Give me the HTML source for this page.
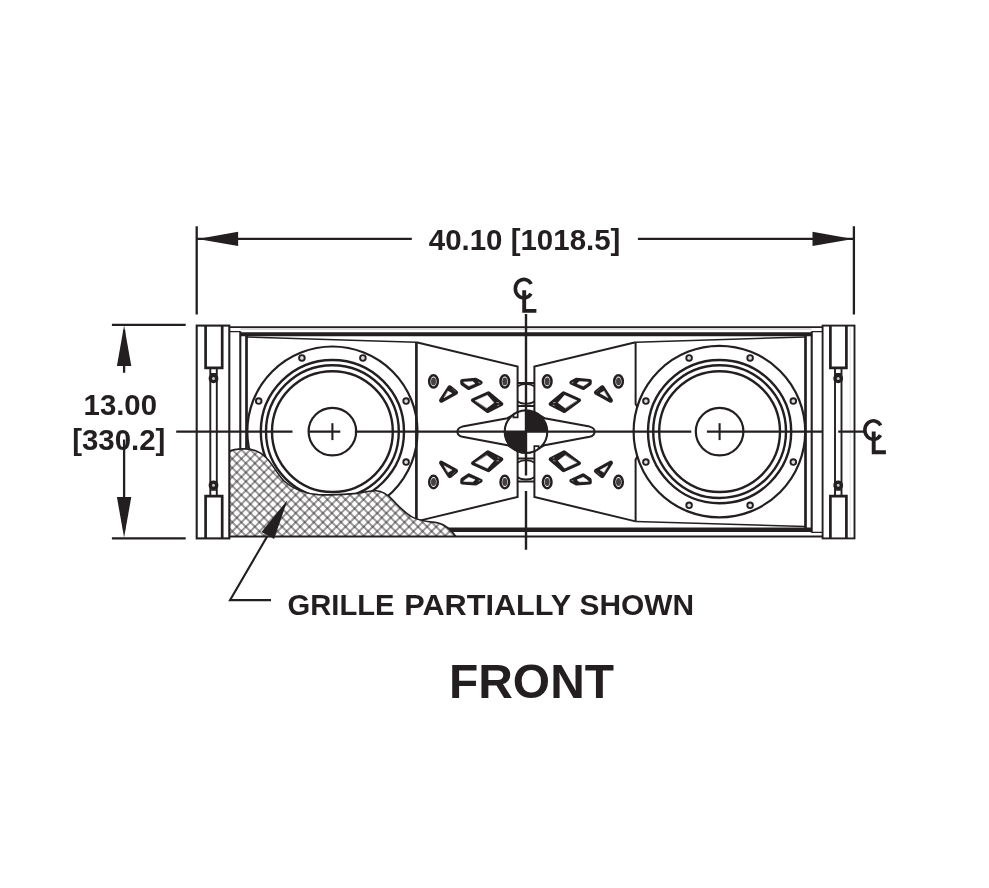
<!DOCTYPE html>
<html>
<head>
<meta charset="utf-8">
<title>Front view</title>
<style>
html,body{margin:0;padding:0;background:#fff;}
body{width:989px;height:888px;overflow:hidden;font-family:"Liberation Sans",sans-serif;}
svg{display:block;}
text{font-family:"Liberation Sans",sans-serif;font-weight:bold;fill:#231f20;}
</style>
</head>
<body>
<svg width="989" height="888" viewBox="0 0 989 888">
<defs>
  <filter id="noop" x="0" y="0" width="989" height="888" filterUnits="userSpaceOnUse" color-interpolation-filters="sRGB"><feOffset dx="0" dy="0"/></filter>
  
  <clipPath id="stripclip"><rect x="517.6" y="370" width="16.8" height="124"/></clipPath>
  <!-- port cluster for upper-left horn quadrant -->
  <g id="ports" stroke-linejoin="round" stroke-linecap="round">
    <ellipse cx="433.5" cy="381.4" rx="4.3" ry="6.2" fill="#fff" stroke="#231f20" stroke-width="2.5"/>
    <ellipse cx="433.5" cy="381.4" rx="2.5" ry="3.9" fill="#454143" stroke="none"/>
    <ellipse cx="504.8" cy="381.4" rx="4.3" ry="6.2" fill="#fff" stroke="#231f20" stroke-width="2.5"/>
    <ellipse cx="504.8" cy="381.4" rx="2.5" ry="3.9" fill="#454143" stroke="none"/>
    <!-- triangle -->
    <path d="M449.7 387.5L455.8 392.5L441.3 400.5Z" fill="#231f20" stroke="#231f20" stroke-width="4.5"/>
    <path d="M448.1 391.2L451.9 393.3L444.4 397.5Z" fill="#fff" stroke="#fff" stroke-width="0.5"/>
    <path d="M452.4 388.8L455.4 391.6" fill="none" stroke="#777475" stroke-width="0.6"/>
    <!-- teardrop -->
    <path d="M462.2 381L475.6 379.9L480.6 382.6L468.8 388L462.4 383.6Z" fill="#231f20" stroke="#231f20" stroke-width="4.1"/>
    <path d="M463.8 382L472.8 381.6L475 383.6L468.8 386.1L464.8 383.5Z" fill="#fff" stroke="#fff" stroke-width="0.5"/>
    <path d="M478.8 382.4L480 382.9" fill="none" stroke="#a5a3a4" stroke-width="0.9"/>
    <!-- diamond -->
    <path d="M472.9 400.2L488.5 393.2L501.4 404.1L487.8 411.1Z" fill="#231f20" stroke="#231f20" stroke-width="3.9"/>
    <path d="M475.4 400.6L487.4 395.2L493.9 402.7L486.8 408Z" fill="#fff" stroke="#fff" stroke-width="0.5"/>
    <path d="M496.8 402.5L498.6 402.7M497.8 405.5L498.9 405.2" fill="none" stroke="#a5a3a4" stroke-width="0.9"/>
  </g>
  <g id="arrow"><path d="M0 0L40.5 -7.2L40.5 7.2Z" fill="#231f20"/></g>
  <g id="clsym" fill="none" stroke="#231f20">
    <path d="M8.8 -4.6A8.5 9.3 0 1 0 8.6 5.1" stroke-width="3.6"/>
    <path d="M1.8 1.6V22.3H14" stroke-width="3.9"/>
  </g>
  <g id="woofer" fill="none" stroke="#231f20">
        <circle r="71.6" stroke-width="2.4"/>
    <circle r="66.4" stroke-width="2.4"/>
    <circle r="60.4" stroke-width="2.4"/>
    <circle r="23.8" stroke-width="2.2"/>
    <path d="M0 -8.4V8.5" stroke-width="2.1"/>
    <g stroke-width="1.9" fill="#dedcdd">
      <circle cx="30.5" cy="-73.7" r="2.8"/><circle cx="-30.5" cy="-73.7" r="2.8"/>
      <circle cx="73.7" cy="-30.5" r="2.8"/><circle cx="-73.7" cy="-30.5" r="2.8"/>
      <circle cx="73.7" cy="30.5" r="2.8"/><circle cx="-73.7" cy="30.5" r="2.8"/>
      <circle cx="30.5" cy="73.7" r="2.8"/><circle cx="-30.5" cy="73.7" r="2.8"/>
    </g>
  </g>
</defs>
<rect width="989" height="888" fill="#fff"/>

<!-- ===== cabinet ===== -->
<g fill="none" stroke="#231f20" stroke-width="1.6">
  <!-- top / bottom rails -->
  <rect x="240.5" y="327.8" width="571" height="2.2" fill="#dddbdc" stroke="none"/>
  <path d="M229.3 327.1H823" stroke-width="1.9"/>
  <path d="M229.3 536.5H823" stroke-width="2"/>
  <path d="M240.5 334.2H811.5" stroke-width="4.1"/>
  <path d="M240.5 529.8H811.5" stroke-width="4.4"/>
  <path d="M229.3 331.6H240.5M811.5 331.6H823M229.3 532.4H240.5M811.5 532.4H823" stroke-width="1.2"/>
  <!-- inner frame verticals -->
  <path d="M240.3 331.6V532.4M811.7 331.6V532.4" stroke-width="2.1"/>
  <path d="M246.5 336V528M805.5 336V528" stroke-width="2.7"/>
  <!-- slanted baffle edges -->
  <path d="M247 337L416.4 342.2M805 337L635.6 342.2M805 526.6L635.6 521.4" stroke-width="1.5"/>
</g>

<!-- woofers -->
<circle cx="332.4" cy="431.6" r="85.1" fill="none" stroke="#231f20" stroke-width="2.2"/>
<circle cx="719.4" cy="431.6" r="85.8" fill="none" stroke="#231f20" stroke-width="2.2"/>
<use href="#woofer" x="332.4" y="431.6"/>
<use href="#woofer" x="719.6" y="431.6"/>

<!-- horn sections -->
<g fill="none" stroke="#231f20" stroke-width="2" stroke-linejoin="miter">
  <path d="M416.4 342.2V521.4" stroke-width="2.7"/>
  <path d="M635.6 342.2V404L637.6 407.5M635.6 521.4V459.6L637.6 456"/>
  <path d="M416.4 342.2L517.6 366.6V417.3M416.4 521.4L517.6 497V446.3"/>
  <path d="M635.6 342.2L534.4 366.6V417.3M635.6 521.4L534.4 497V446.3"/>
  <!-- vanes -->
  <path d="M517.6 412.4L507.4 418.2L462.4 426.6Q457.4 427.8 457.4 431.7Q457.4 435.6 462.4 436.8L507.4 445.2L517.6 451"/>
  <path d="M534.4 412.4L544.6 418.2L589.6 426.6Q594.6 427.8 594.6 431.7Q594.6 435.6 589.6 436.8L544.6 445.2L534.4 451"/>
  <path d="M513.5 414.8V417.3H517.6M538.5 448.6V446.3H534.4" stroke-width="1.4"/>
</g>
<!-- centre strip -->
<g fill="none" stroke="#231f20" stroke-width="2">
  <path d="M517.7 383H534.3M517.7 405.9H534.3M517.7 458.4H534.3M517.7 481.4H534.3"/>
  <g clip-path="url(#stripclip)" stroke-width="1.8">
    <ellipse cx="526" cy="393.9" rx="13" ry="10"/>
    <ellipse cx="526" cy="469.8" rx="13" ry="9.7"/>
  </g>
</g>
<!-- ports -->
<use href="#ports"/>
<use href="#ports" transform="translate(1052,0) scale(-1,1)"/>
<use href="#ports" transform="translate(0,863.4) scale(1,-1)"/>
<use href="#ports" transform="translate(1052,863.4) scale(-1,-1)"/>

<!-- centre target -->
<circle cx="526" cy="431.7" r="21.3" fill="#fff" stroke="none"/>
<path d="M526 431.7V410.4A21.3 21.3 0 0 1 547.3 431.7Z" fill="#231f20"/>
<path d="M526 431.7V453A21.3 21.3 0 0 1 504.7 431.7Z" fill="#231f20"/>
<circle cx="526" cy="431.7" r="21.3" fill="none" stroke="#231f20" stroke-width="2.1"/>
<path d="M517.7 411.6V417.3H513.4V414.4M534.3 451.8V446.1H538.6V449" fill="none" stroke="#231f20" stroke-width="1.7"/>

<!-- grille -->
<clipPath id="gclip"><path d="M229.3 536.2V451.2C232 450 237 449.2 243 448.9C252 448.3 259.5 451 267 458.5C273 465 276 472 284 481C293 489 304 493.6 318 494.6C332 495.2 346 494.6 357 493.4C364 492.2 370 490.6 376 490.8C382 491.2 388 494.8 393 500.2C399 506.8 405 512.8 411.5 516.6C418 520.4 427 521.6 435 522.4C441.5 523.2 446.5 526.4 450.5 530.4C452.8 532.6 454.4 534.6 455.6 536.2Z"/></clipPath>
<path d="M229.3 536.2V451.2C232 450 237 449.2 243 448.9C252 448.3 259.5 451 267 458.5C273 465 276 472 284 481C293 489 304 493.6 318 494.6C332 495.2 346 494.6 357 493.4C364 492.2 370 490.6 376 490.8C382 491.2 388 494.8 393 500.2C399 506.8 405 512.8 411.5 516.6C418 520.4 427 521.6 435 522.4C441.5 523.2 446.5 526.4 450.5 530.4C452.8 532.6 454.4 534.6 455.6 536.2Z" fill="#fff" stroke="none"/>
<g clip-path="url(#gclip)" fill="none" stroke="#231f20" stroke-width="2" stroke-opacity="0.45"><path d="M453.06 444.00L460.00 450.94M444.00 444.00L460.00 460.00M434.94 444.00L460.00 469.06M425.88 444.00L460.00 478.12M416.82 444.00L460.00 487.18M407.76 444.00L460.00 496.24M398.70 444.00L460.00 505.30M389.64 444.00L460.00 514.36M380.58 444.00L460.00 523.42M371.52 444.00L460.00 532.48M362.46 444.00L458.46 540.00M353.40 444.00L449.40 540.00M344.34 444.00L440.34 540.00M335.28 444.00L431.28 540.00M326.22 444.00L422.22 540.00M317.16 444.00L413.16 540.00M308.10 444.00L404.10 540.00M299.04 444.00L395.04 540.00M289.98 444.00L385.98 540.00M280.92 444.00L376.92 540.00M271.86 444.00L367.86 540.00M262.80 444.00L358.80 540.00M253.74 444.00L349.74 540.00M244.68 444.00L340.68 540.00M235.62 444.00L331.62 540.00M226.56 444.00L322.56 540.00M226.00 452.50L313.50 540.00M226.00 461.56L304.44 540.00M226.00 470.62L295.38 540.00M226.00 479.68L286.32 540.00M226.00 488.74L277.26 540.00M226.00 497.80L268.20 540.00M226.00 506.86L259.14 540.00M226.00 515.92L250.08 540.00M226.00 524.98L241.02 540.00M226.00 534.04L231.96 540.00"/><path d="M226.00 446.94L228.94 444.00M226.00 456.00L238.00 444.00M226.00 465.06L247.06 444.00M226.00 474.12L256.12 444.00M226.00 483.18L265.18 444.00M226.00 492.24L274.24 444.00M226.00 501.30L283.30 444.00M226.00 510.36L292.36 444.00M226.00 519.42L301.42 444.00M226.00 528.48L310.48 444.00M226.00 537.54L319.54 444.00M232.60 540.00L328.60 444.00M241.66 540.00L337.66 444.00M250.72 540.00L346.72 444.00M259.78 540.00L355.78 444.00M268.84 540.00L364.84 444.00M277.90 540.00L373.90 444.00M286.96 540.00L382.96 444.00M296.02 540.00L392.02 444.00M305.08 540.00L401.08 444.00M314.14 540.00L410.14 444.00M323.20 540.00L419.20 444.00M332.26 540.00L428.26 444.00M341.32 540.00L437.32 444.00M350.38 540.00L446.38 444.00M359.44 540.00L455.44 444.00M368.50 540.00L460.00 448.50M377.56 540.00L460.00 457.56M386.62 540.00L460.00 466.62M395.68 540.00L460.00 475.68M404.74 540.00L460.00 484.74M413.80 540.00L460.00 493.80M422.86 540.00L460.00 502.86M431.92 540.00L460.00 511.92M440.98 540.00L460.00 520.98M450.04 540.00L460.00 530.04M459.10 540.00L460.00 539.10"/></g>
<path d="M229.3 536.2V451.2C232 450 237 449.2 243 448.9C252 448.3 259.5 451 267 458.5C273 465 276 472 284 481C293 489 304 493.6 318 494.6C332 495.2 346 494.6 357 493.4C364 492.2 370 490.6 376 490.8C382 491.2 388 494.8 393 500.2C399 506.8 405 512.8 411.5 516.6C418 520.4 427 521.6 435 522.4C441.5 523.2 446.5 526.4 450.5 530.4C452.8 532.6 454.4 534.6 455.6 536.2Z" fill="none" stroke="#231f20" stroke-width="1.6"/>

<!-- side panels -->
<g fill="#fff" stroke="#231f20">
  <rect x="196.7" y="325.6" width="32.6" height="212.8" stroke-width="2.1"/>
  <rect x="822.6" y="325.6" width="31.9" height="212.8" stroke-width="1.9"/>
</g>
<g fill="none" stroke="#231f20">
  <path d="M850.2 326.5V537.4" stroke="#e4e3e3" stroke-width="1"/>
  <!-- rigging bars -->
  <path d="M205.6 325.6V367.9H222.2V325.6" stroke-width="2.7"/>
  <path d="M205.6 538.4V496.2H222.2V538.4" stroke-width="2.7"/>
  <path d="M830.4 325.6V367.9H846.4V325.6" stroke-width="2.7"/>
  <path d="M830.4 538.4V496.2H846.4V538.4" stroke-width="2.7"/>
  <!-- rods -->
  <path d="M210.3 367.9V495.8M216.8 367.9V495.8M835 367.9V495.8M841.5 367.9V495.8" stroke-width="1.9"/>
  <path d="M210.3 373.6H216.8M210.3 490.1H216.8M835 373.6H841.5M835 490.1H841.5" stroke-width="1.2"/>
  <g stroke-width="3.4" fill="#c9c7c8">
    <circle cx="213.5" cy="378.4" r="3.2"/><circle cx="213.5" cy="485.3" r="3.2"/>
    <circle cx="838.2" cy="378.4" r="3.2"/><circle cx="838.2" cy="485.3" r="3.2"/>
  </g>
</g>

<!-- centre lines -->
<g fill="none" stroke="#231f20" stroke-width="2.2">
  <path d="M176.2 431.7H292.5M308.3 431.7H340.3M354.8 431.7H691.3M706.9 431.7H822.8M838.2 431.7H864"/>
  <path d="M526 313.9V475.4M526 491V549.7" stroke-width="2.4"/>
</g>
<use href="#clsym" x="522.4" y="288.6"/>
<use href="#clsym" x="871.9" y="430"/>

<!-- dimensions -->
<g fill="none" stroke="#231f20" stroke-width="2.3">
  <path d="M196.7 226.3V314.5M853.9 226.3V314.5"/>
  <path d="M196.7 238.9H411.8M637.9 238.9H853.9"/>
  <path d="M111.9 324.9H185.7M111.9 538.4H185.7"/>
  <path d="M124.1 330V372.7M124.1 439.5V530"/>
  <path d="M267.5 535.9L230 600.1H271" stroke-width="2.1"/>
</g>
<use href="#arrow" transform="translate(197.6,238.9)"/>
<use href="#arrow" transform="translate(853,238.9) scale(-1,1)"/>
<use href="#arrow" transform="translate(124.1,325.6) rotate(90)"/>
<use href="#arrow" transform="translate(124.1,537.6) rotate(-90)"/>
<use href="#arrow" transform="translate(287.5,500) rotate(119.1)"/>

<!-- text -->
<g filter="url(#noop)">
<text x="428.8" y="249.9" font-size="29" textLength="191.6" lengthAdjust="spacingAndGlyphs">40.10 [1018.5]</text>
<text x="83.6" y="414.7" font-size="29" textLength="73.4" lengthAdjust="spacingAndGlyphs">13.00</text>
<text x="72.2" y="449.8" font-size="29" textLength="93.2" lengthAdjust="spacingAndGlyphs">[330.2]</text>
<!--gw--><text x="287.50" y="614.7" font-size="29" textLength="107.00" lengthAdjust="spacingAndGlyphs">GRILLE</text><text x="404.30" y="614.7" font-size="29" textLength="166.79" lengthAdjust="spacingAndGlyphs">PARTIALLY</text><text x="579.50" y="614.7" font-size="29" textLength="114.56" lengthAdjust="spacingAndGlyphs">SHOWN</text><!--/gw-->
<text x="449" y="697.7" font-size="47.6" textLength="165" lengthAdjust="spacingAndGlyphs">FRONT</text>
</g>
</svg>
</body>
</html>
